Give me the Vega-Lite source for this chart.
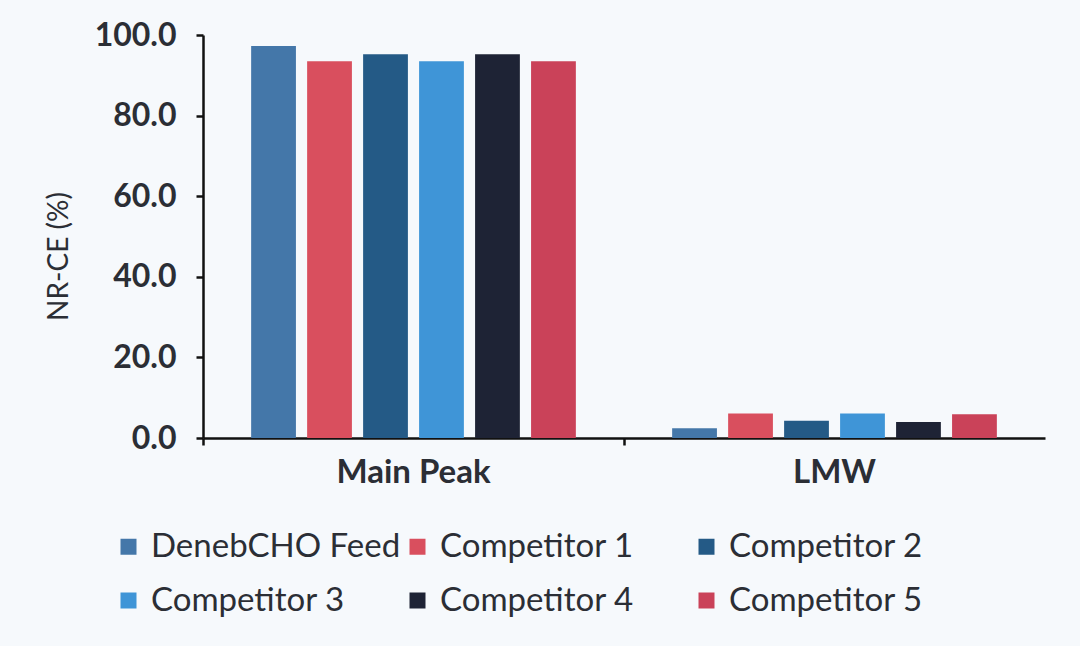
{
  "$schema": "https://vega.github.io/schema/vega-lite/v6.json",
  "width": 842,
  "height": 403,
  "autosize": {"type": "none"},
  "padding": {"left": 203, "top": 35, "right": 35, "bottom": 208},
  "background": "#f6f9fc",
  "config": {
    "font": "Lato",
    "view": {"stroke": null},
    "axis": {"grid": false}
  },
  "data": {
    "values": [
      {"Group": "Main Peak", "Series": "DenebCHO Feed", "Value": 97.3},
      {"Group": "Main Peak", "Series": "Competitor 1", "Value": 93.5},
      {"Group": "Main Peak", "Series": "Competitor 2", "Value": 95.2},
      {"Group": "Main Peak", "Series": "Competitor 3", "Value": 93.5},
      {"Group": "Main Peak", "Series": "Competitor 4", "Value": 95.2},
      {"Group": "Main Peak", "Series": "Competitor 5", "Value": 93.5},
      {"Group": "LMW", "Series": "DenebCHO Feed", "Value": 2.4},
      {"Group": "LMW", "Series": "Competitor 1", "Value": 6.1},
      {"Group": "LMW", "Series": "Competitor 2", "Value": 4.3},
      {"Group": "LMW", "Series": "Competitor 3", "Value": 6.1},
      {"Group": "LMW", "Series": "Competitor 4", "Value": 4.0},
      {"Group": "LMW", "Series": "Competitor 5", "Value": 5.9}
    ]
  },
  "mark": {"type": "bar"},
  "encoding": {
    "x": {
      "field": "Group",
      "type": "nominal",
      "sort": ["Main Peak", "LMW"],
      "scale": {"paddingInner": 0, "paddingOuter": 0},
      "axis": {
        "title": null,
        "labelAngle": 0,
        "bandPosition": 0,
        "domainColor": "#111111",
        "domainWidth": 2.5,
        "tickColor": "#111111",
        "tickWidth": 2.5,
        "tickSize": 7,
        "labelFont": "Lato",
        "labelFontSize": 33,
        "labelFontWeight": "bold",
        "labelColor": "#2b2e35",
        "labelPadding": 11
      }
    },
    "xOffset": {
      "field": "Series",
      "type": "nominal",
      "sort": ["DenebCHO Feed", "Competitor 1", "Competitor 2", "Competitor 3", "Competitor 4", "Competitor 5"],
      "scale": {"paddingInner": 0.2, "paddingOuter": 0.86}
    },
    "y": {
      "field": "Value",
      "type": "quantitative",
      "scale": {"domain": [0, 100], "nice": false},
      "axis": {
        "title": "NR-CE (%)",
        "values": [0, 20, 40, 60, 80, 100],
        "format": ".1f",
        "domainColor": "#111111",
        "domainWidth": 2.5,
        "tickColor": "#111111",
        "tickWidth": 2.5,
        "tickSize": 7,
        "labelFont": "Lato",
        "labelFontSize": 32,
        "labelFontWeight": "bold",
        "labelColor": "#2b2e35",
        "labelPadding": 20,
        "titleFont": "Lato",
        "titleFontSize": 28,
        "titleFontWeight": "normal",
        "titleColor": "#2b2e35",
        "titleX": -130,
        "titleY": 221
      }
    },
    "color": {
      "field": "Series",
      "type": "nominal",
      "sort": ["DenebCHO Feed", "Competitor 1", "Competitor 2", "Competitor 3", "Competitor 4", "Competitor 5"],
      "scale": {
        "domain": ["DenebCHO Feed", "Competitor 1", "Competitor 2", "Competitor 3", "Competitor 4", "Competitor 5"],
        "range": ["#4477a9", "#d94f5e", "#245a86", "#3f95d7", "#1e2335", "#ca4259"]
      },
      "legend": {
        "title": null,
        "orient": "none",
        "direction": "horizontal",
        "legendX": -91,
        "legendY": 495,
        "columns": 3,
        "gridAlign": "all",
        "columnPadding": 0,
        "rowPadding": 20,
        "symbolType": "square",
        "symbolSize": 256,
        "symbolStrokeWidth": 0,
        "labelOffset": 6,
        "labelFont": "Lato",
        "labelFontSize": 33,
        "labelColor": "#2b2e35",
        "labelLimit": 400
      }
    }
  }
}
